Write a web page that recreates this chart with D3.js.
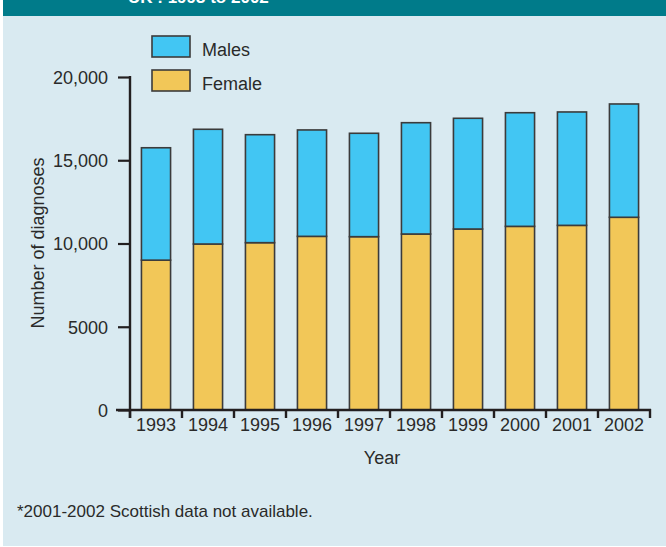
<!DOCTYPE html>
<html>
<head>
<meta charset="utf-8">
<script src="https://cdn.jsdelivr.net/npm/d3@7"></script>
<style>
  html, body { margin: 0; padding: 0; background: #ffffff; }
  svg { display: block; }
  text { font-family: Arial, "Liberation Sans", Helvetica, sans-serif; fill: #2a2a2a; }
</style>
</head>
<body>
<svg id="chart" width="666" height="547"></svg>
<script>
// Annual diagnoses, UK 1993-2002
const years   = ["1993", "1994", "1995", "1996", "1997", "1998", "1999", "2000", "2001", "2002"];
const females = [9000, 9970, 10050, 10430, 10410, 10570, 10870, 11030, 11090, 11575];
const males   = [6750, 6890, 6485, 6390, 6210, 6685, 6650, 6825, 6810, 6805];
const yTicks  = [0, 5000, 10000, 15000, 20000];
const seriesNames = ["Males", "Female"];
const colours = { Males: "#42c6f3", Female: "#f2c758" };

const svg = d3.select("#chart");
const ink = "#231f20";
const barEdge = "#3b3b3b";

// panel background and header band
svg.append("rect").attr("x", 3).attr("y", 0).attr("width", 663).attr("height", 546).attr("fill", "#d9eaf1");
svg.append("rect").attr("x", 3).attr("y", 0).attr("width", 663).attr("height", 16).attr("fill", "#007b8a");
svg.append("text").attr("x", 128).attr("y", 3)
  .style("font-size", "17px").style("font-weight", "bold").style("fill", "#ffffff")
  .text("UK : 1993 to 2002");

// scales
const x = d3.scaleBand().domain(years).range([130, 650]).paddingInner(0.44).paddingOuter(0.22);
const y = d3.scaleLinear().domain([0, 20000]).range([410, 77]);

const rows = years.map((yr, i) => ({ year: yr, Female: females[i], Males: males[i] }));
const stack = d3.stack().keys(["Female", "Males"])(rows);

// stacked bars
svg.append("g").selectAll("g").data(stack).join("g")
  .attr("fill", d => colours[d.key])
  .selectAll("rect").data(d => d).join("rect")
  .attr("x", d => x(d.data.year))
  .attr("width", x.bandwidth())
  .attr("y", d => y(d[1]))
  .attr("height", d => y(d[0]) - y(d[1]))
  .attr("stroke", barEdge).attr("stroke-width", 1.6);

// y axis
const fmt = d => d >= 10000 ? d3.format(",")(d) : String(d);
const yAxis = svg.append("g").attr("transform", "translate(130,0)")
  .call(d3.axisLeft(y).tickValues(yTicks).tickFormat(fmt).tickSize(12).tickPadding(10).tickSizeOuter(0));
yAxis.select(".domain").remove();
yAxis.selectAll(".tick line").attr("stroke", ink).attr("stroke-width", 2.2);
yAxis.selectAll(".tick text").style("font-size", "18px").attr("fill", "#2a2a2a")
  .attr("dy", "0.36em");
svg.append("line").attr("x1", 130).attr("x2", 130).attr("y1", y(20000) - 1).attr("y2", 418)
  .attr("stroke", ink).attr("stroke-width", 2.4);

// x axis with ticks at the category boundaries
svg.append("line").attr("x1", 116).attr("x2", 651).attr("y1", 410).attr("y2", 410)
  .attr("stroke", ink).attr("stroke-width", 2.4);
const gap = (x.step() - x.bandwidth()) / 2;
const bounds = years.map(yr => x(yr) - gap).concat([x.range()[1]]);
svg.append("g").selectAll("line").data(bounds).join("line")
  .attr("x1", d => d).attr("x2", d => d).attr("y1", 409).attr("y2", 418)
  .attr("stroke", ink).attr("stroke-width", 2.4);
svg.append("g").selectAll("text").data(years).join("text")
  .attr("x", d => x(d) + x.bandwidth() / 2).attr("y", 431)
  .attr("text-anchor", "middle").style("font-size", "18px")
  .text(d => d);

// axis titles
svg.append("text").attr("x", 382).attr("y", 464).attr("text-anchor", "middle")
  .style("font-size", "18px").text("Year");
svg.append("text").attr("transform", "translate(44,243) rotate(-90)").attr("text-anchor", "middle")
  .style("font-size", "18px").text("Number of diagnoses");

// legend
const legend = svg.append("g").selectAll("g").data(seriesNames).join("g")
  .attr("transform", (d, i) => `translate(152,${36 + i * 34})`);
legend.append("rect").attr("width", 38).attr("height", 21)
  .attr("fill", d => colours[d]).attr("stroke", barEdge).attr("stroke-width", 1.6);
legend.append("text").attr("x", 50).attr("y", 20).style("font-size", "18px").text(d => d);

// footnote
svg.append("text").attr("x", 17).attr("y", 517).style("font-size", "17px")
  .text("*2001-2002 Scottish data not available.");
</script>
</body>
</html>
